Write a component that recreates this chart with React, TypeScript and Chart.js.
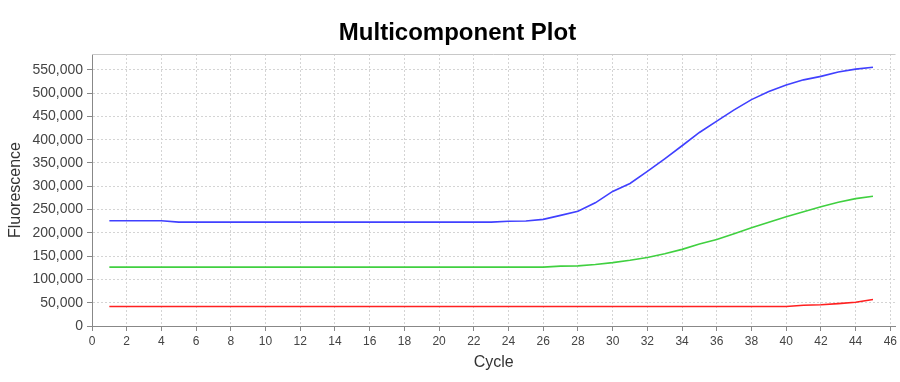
import React, { useEffect, useRef } from "react";
import { Chart, registerables } from "chart.js";

Chart.register(...registerables);

const cycles = Array.from({ length: 45 }, (_, i) => i + 1);

const blueValues = [
  226000, 226000, 226000, 226000, 223000, 223000, 223000, 223000, 223000, 223000,
  223000, 223000, 223000, 223000, 223000, 223000, 223000, 223000, 223000, 223000,
  223000, 223000, 223000, 225000, 225500, 229000, 237500, 246500, 264500, 289000,
  306000, 332000, 359000, 387000, 415500, 440000, 464000, 486000, 503500, 517500,
  528500, 536000, 545500, 551500, 555500,
];

const greenValues = [
  126500, 126500, 126500, 126500, 126500, 126500, 126500, 126500, 126500, 126500,
  126500, 126500, 126500, 126500, 126500, 126500, 126500, 126500, 126500, 126500,
  126500, 126500, 126500, 126500, 126500, 126500, 128500, 129000, 132000, 136000,
  141000, 147000, 155000, 164500, 176000, 185500, 198000, 211000, 223000, 234500,
  245500, 256000, 265500, 273500, 278500,
];

const redValues = [
  42000, 42000, 42000, 42000, 42000, 42000, 42000, 42000, 42000, 42000,
  42000, 42000, 42000, 42000, 42000, 42000, 42000, 42000, 42000, 42000,
  42000, 42000, 42000, 42000, 42000, 42000, 42000, 42000, 42000, 42000,
  42000, 42000, 42000, 42000, 42000, 42000, 42000, 42000, 42000, 42000,
  44500, 45500, 48000, 51000, 57000,
];

const seriesColors = ["rgb(64,64,255)", "rgb(64,208,64)", "rgb(255,32,32)"];
const seriesNames = ["Blue", "Green", "Red"];

const X_MIN = 0;
const X_MAX = 46.3;
const X_STEP = 2;
const Y_MIN = 0;
const Y_MAX = 584000;
const Y_STEP = 50000;

const FONT = "'Liberation Sans', Arial, sans-serif";

const stepTicks = (min: number, max: number, step: number) => {
  const out: { value: number }[] = [];
  for (let v = min; v <= max + 1e-9; v += step) out.push({ value: v });
  return out;
};

const topBorderPlugin = {
  id: "topBorder",
  afterDraw(chart: any) {
    const { ctx, chartArea } = chart;
    ctx.save();
    ctx.strokeStyle = "#c8c8c8";
    ctx.lineWidth = 1;
    ctx.beginPath();
    ctx.moveTo(chartArea.left, chartArea.top + 0.5);
    ctx.lineTo(chartArea.right, chartArea.top + 0.5);
    ctx.stroke();
    ctx.restore();
  },
};

export default function App() {
  const canvasRef = useRef<HTMLCanvasElement | null>(null);

  useEffect(() => {
    const canvas = canvasRef.current;
    if (!canvas) return;
    const toPoints = (vals: number[]) => vals.map((v, i) => ({ x: cycles[i], y: v }));
    const allSeries = [blueValues, greenValues, redValues];

    const chart = new Chart(canvas, {
      type: "line",
      data: {
        datasets: allSeries.map((vals, i) => ({
          label: seriesNames[i],
          data: toPoints(vals),
          borderColor: seriesColors[i],
          backgroundColor: seriesColors[i],
          borderWidth: 1.6,
          pointRadius: 0,
          tension: 0,
          fill: false,
        })),
      },
      options: {
        responsive: false,
        animation: false,
        layout: { padding: { left: 16, right: 1, top: 0, bottom: 0 } },
        plugins: {
          legend: { display: false },
          tooltip: { enabled: false },
          title: {
            display: true,
            text: "Multicomponent Plot",
            color: "#000",
            font: { family: FONT, size: 24, weight: "bold" },
            padding: { top: 18.6, bottom: 6.6 },
          },
        },
        scales: {
          x: {
            type: "linear",
            min: X_MIN,
            max: X_MAX,
            afterBuildTicks: (scale: any) => {
              scale.ticks = stepTicks(X_MIN, X_MAX, X_STEP);
            },
            afterFit: (scale: any) => {
              scale.height = 56;
            },
            ticks: {
              color: "#444",
              font: { family: FONT, size: 12 },
              padding: 3,
              maxRotation: 0,
              autoSkip: false,
            },
            grid: {
              color: "#d4d4d4",
              lineWidth: 1,
              drawTicks: true,
              tickLength: 5,
              tickColor: "#888",
            },
            border: { display: true, color: "#888", width: 1, dash: [2, 2] },
            title: {
              display: true,
              text: "Cycle",
              color: "#333",
              font: { family: FONT, size: 16 },
              padding: { top: 0, bottom: 10 },
            },
          },
          y: {
            type: "linear",
            min: Y_MIN,
            max: Y_MAX,
            afterBuildTicks: (scale: any) => {
              scale.ticks = stepTicks(Y_MIN, Y_MAX, Y_STEP);
            },
            afterFit: (scale: any) => {
              scale.width = 76;
            },
            ticks: {
              color: "#444",
              font: { family: FONT, size: 14 },
              padding: 4,
              autoSkip: false,
              callback: (v: any) => Number(v).toLocaleString("en-US"),
            },
            grid: {
              color: "#d4d4d4",
              lineWidth: 1,
              drawTicks: true,
              tickLength: 5,
              tickColor: "#888",
            },
            border: { display: true, color: "#888", width: 1, dash: [2, 2] },
            title: {
              display: true,
              text: "Fluorescence",
              color: "#333",
              font: { family: FONT, size: 16 },
              padding: { top: -10, bottom: 0 },
            },
          },
        },
      },
      plugins: [topBorderPlugin],
    } as any);

    return () => chart.destroy();
  }, []);

  return (
    <div style={{ position: "fixed", left: 0, top: 0, width: 900, height: 382, background: "#fff" }}>
      <canvas ref={canvasRef} width={900} height={382} style={{ width: 900, height: 382, display: "block" }} />
    </div>
  );
}
